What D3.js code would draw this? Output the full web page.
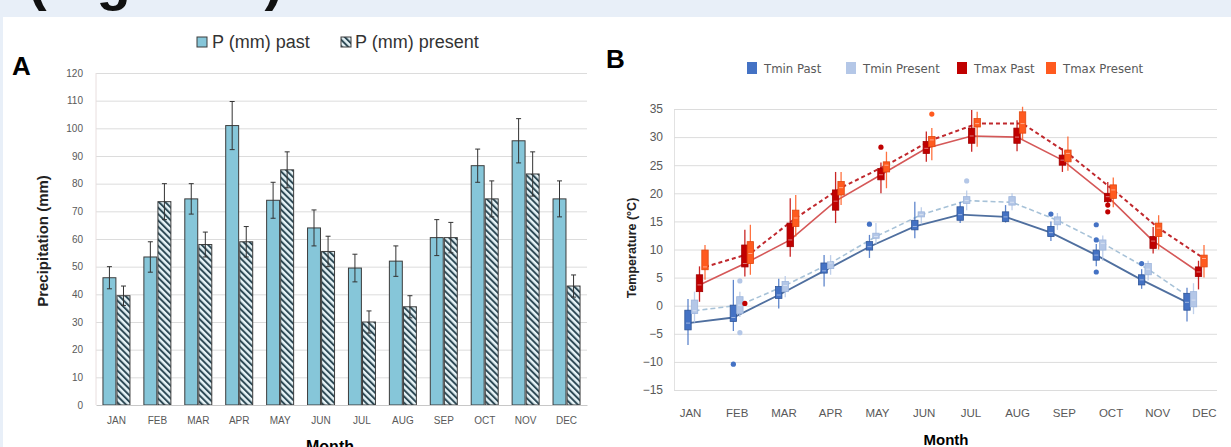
<!DOCTYPE html>
<html>
<head>
<meta charset="utf-8">
<script src="https://cdn.jsdelivr.net/npm/d3@7"></script>
<style>
    body { margin: 0; background: #fff; }
    svg { display: block; }
</style>
</head>
<body>
<div id="chart"></div>
<script>
const months = ["JAN", "FEB", "MAR", "APR", "MAY", "JUN", "JUL", "AUG", "SEP", "OCT", "NOV", "DEC"];

// panel A - precipitation (mm)
const precipPast = [46, 53.5, 74.5, 101, 74, 64, 49.5, 52, 60.5, 86.5, 95.5, 74.5];
const precipPastErr = [4, 5.5, 5.5, 8.7, 6.5, 6.5, 5, 5.5, 6.5, 6, 8, 6.5];
const precipPresent = [39.5, 73.5, 58, 59, 85, 55.5, 30, 35.5, 60.5, 74.5, 83.5, 43];
const precipPresentErr = [3.5, 6.5, 4.5, 5.5, 6.5, 5.5, 4, 4, 5.5, 6.5, 8, 4];
const precipTicks = [0, 10, 20, 30, 40, 50, 60, 70, 80, 90, 100, 110, 120];

// panel B - temperature (°C), box = [whisker low, q1, q3, whisker high]
const tempTicks = [-15, -10, -5, 0, 5, 10, 15, 20, 25, 30, 35];

const tminPastMean = [-3.1, -2.1, 1.9, 6.2, 10.5, 14.1, 16.2, 15.8, 13.0, 9.0, 4.6, 0.6];
const tminPastBox = [[-7, -4.3, -0.8, 1.2], [-4.5, -2.8, 0.1, 4.6], [-0.5, 1.3, 3.4, 4.8], [3.4, 5.8, 7.6, 9],
    [8.5, 9.9, 11.4, 12.6], [12, 13.5, 15.2, 18.5], [14.7, 15.2, 17.6, 18.5], [14.8, 15, 16.7, 17.9],
    [11.5, 12.3, 14.1, 15], [7, 8.1, 9.9, 11], [3, 3.7, 5.5, 6.5], [-2.8, -0.8, 2.2, 3.2]];
const tminPastOut = [[1, -10.4], [4, 14.5], [8, 16.3], [9, 14.4], [9, 11.7], [9, 6.0], [10, 7.5]];

const tminPresentMean = [-0.9, 0.1, 3.6, 7.6, 12.3, 16.2, 18.7, 18.4, 15.2, 11.1, 6.5, 1.0];
const tminPresentBox = [[-3, -1.4, 1, 2.5], [-2, -1.4, 1.6, 2.5], [1.5, 2.5, 4.3, 5.3], [5.5, 6.6, 7.8, 9],
    [11, 12, 12.9, 14.7], [14.5, 15.8, 16.7, 17.5], [17, 18.2, 19.4, 20.5], [17, 17.9, 19.4, 20],
    [13.5, 14.4, 15.8, 16.5], [8, 9.9, 11.7, 12.5], [4.5, 5.5, 7.5, 8], [-1.5, -0.2, 2.5, 4]];
const tminPresentOut = [[1, 4.4], [1, -4.8], [6, 22.2]];

const tmaxPastMean = [3.7, 7.5, 11.7, 18.6, 23.3, 28.0, 30.2, 30.0, 25.9, 19.4, 11.5, 6.0];
const tmaxPastBox = [[0.7, 2.5, 5.5, 7], [5.2, 6.9, 10.8, 13.5], [8.7, 10.5, 14.7, 19.1], [14.7, 17, 20.6, 23.8],
    [20, 22.4, 24.4, 25.5], [25.6, 27.1, 29.2, 31], [27.4, 28.9, 31.6, 34.8], [27.5, 28.9, 31.6, 33],
    [23.8, 25, 26.8, 28], [18, 18.5, 20, 22], [9.3, 10.2, 12.3, 14], [2.9, 5.2, 6.9, 8]];
const tmaxPastOut = [[1, 0.4], [4, 28.2], [9, 17.9], [9, 16.7]];

const tmaxPresentMean = [6.9, 9.3, 15.6, 21.0, 25.0, 29.5, 32.4, 32.4, 27.1, 20.6, 13.8, 8.4];
const tmaxPresentBox = [[4.6, 6.4, 9.9, 10.8], [5.5, 7.5, 11.4, 14.4], [12.3, 14.1, 17, 19.7], [17.9, 19.7, 22.1, 23.8],
    [20.9, 23.8, 25.6, 27.4], [25.9, 28.3, 30.1, 31.6], [28.3, 31.8, 33.3, 34.5], [29.5, 30.7, 34.5, 35.4],
    [24, 25.6, 27.7, 30.1], [17.5, 19.1, 21.5, 22.8], [10, 12.3, 14.7, 16.1], [5, 6.9, 9, 10.8]];
const tmaxPresentOut = [[5, 34.1]];

const tempNames = ["Tmin Past", "Tmin Present", "Tmax Past", "Tmax Present"];

const W = 1231, H = 447;
const svg = d3.select("#chart").append("svg")
    .attr("width", W)
    .attr("height", H)
    .style("font-family", "'Liberation Sans', Arial, sans-serif");

// page background + heading (only its lower edge is in view)
svg.append("rect").attr("width", W).attr("height", H).attr("fill", "#e8eff8");
svg.append("text")
    .attr("x", 28).attr("y", -1)
    .style("font-size", "56px").style("font-weight", "bold").attr("fill", "#111")
    .text("(Figure 3)");
svg.append("rect").attr("x", 3).attr("y", 17).attr("width", W - 3).attr("height", H - 17).attr("fill", "#fff");

const defs = svg.append("defs");
const hatch = defs.append("pattern")
    .attr("id", "hatch")
    .attr("patternUnits", "userSpaceOnUse")
    .attr("width", 4.5).attr("height", 4.5)
    .attr("patternTransform", "rotate(-45)");
hatch.append("rect").attr("width", 4.5).attr("height", 4.5).attr("fill", "#e6f3f7");
hatch.append("line").attr("x1", 1).attr("x2", 1).attr("y1", 0).attr("y2", 4.5)
    .attr("stroke", "#2e4a56").attr("stroke-width", 2);

const tickColor = "#595959";
const gridColor = "#dcdcdc";

// ================= panel A =================
const aLeft = 96, aRight = 587, aTop = 73, aBottom = 405;

const xA = d3.scaleBand().domain(months).range([aLeft, aRight]).padding(0);
const xSub = d3.scaleBand().domain(["past", "present"]).range([0, 27]).paddingInner(0.08);
const yA = d3.scaleLinear().domain([0, 120]).range([aBottom, aTop]);
const groupX = m => xA(m) + (xA.bandwidth() - 27) / 2;

// grid
svg.append("g")
    .attr("transform", `translate(${aLeft},0)`)
    .call(d3.axisLeft(yA).tickValues(precipTicks.slice(1)).tickSize(-(aRight - aLeft)).tickFormat(""))
    .call(g => g.select(".domain").remove())
    .call(g => g.selectAll("line").attr("stroke", gridColor));

svg.append("line")
    .attr("x1", aLeft).attr("x2", aLeft).attr("y1", aTop).attr("y2", aBottom)
    .attr("stroke", "#e8dede");

// y axis labels
svg.append("g")
    .attr("transform", `translate(${aLeft - 10},0)`)
    .call(d3.axisLeft(yA).tickValues(precipTicks).tickSize(0))
    .call(g => g.select(".domain").remove())
    .call(g => g.selectAll("text").attr("fill", tickColor).style("font-size", "10px")
        .style("font-family", "'Liberation Sans', Arial, sans-serif"));

// bars past
svg.append("g").selectAll("rect")
    .data(months)
    .enter().append("rect")
    .attr("x", m => groupX(m) + xSub("past"))
    .attr("width", xSub.bandwidth())
    .attr("y", (m, i) => yA(precipPast[i]))
    .attr("height", (m, i) => yA(0) - yA(precipPast[i]))
    .attr("fill", "#86c6d9")
    .attr("stroke", "#3d3d3d")
    .attr("stroke-width", 1);

// bars present (hatched)
svg.append("g").selectAll("rect")
    .data(months)
    .enter().append("rect")
    .attr("x", m => groupX(m) + xSub("present"))
    .attr("width", xSub.bandwidth())
    .attr("y", (m, i) => yA(precipPresent[i]))
    .attr("height", (m, i) => yA(0) - yA(precipPresent[i]))
    .attr("fill", "url(#hatch)")
    .attr("stroke", "#3d3d3d")
    .attr("stroke-width", 1);

// error bars
const errData = [];
months.forEach((m, i) => {
    errData.push({cx: groupX(m) + xSub("past") + xSub.bandwidth() / 2, v: precipPast[i], e: precipPastErr[i]});
    errData.push({cx: groupX(m) + xSub("present") + xSub.bandwidth() / 2, v: precipPresent[i], e: precipPresentErr[i]});
});
const eb = svg.append("g").attr("stroke", "#333").attr("stroke-width", 1).selectAll("g")
    .data(errData).enter().append("g");
eb.append("line")
    .attr("x1", d => d.cx).attr("x2", d => d.cx)
    .attr("y1", d => yA(d.v - d.e)).attr("y2", d => yA(d.v + d.e));
eb.append("line")
    .attr("x1", d => d.cx - 2.5).attr("x2", d => d.cx + 2.5)
    .attr("y1", d => yA(d.v + d.e)).attr("y2", d => yA(d.v + d.e));
eb.append("line")
    .attr("x1", d => d.cx - 2.5).attr("x2", d => d.cx + 2.5)
    .attr("y1", d => yA(d.v - d.e)).attr("y2", d => yA(d.v - d.e));

// x axis
svg.append("g")
    .attr("transform", `translate(0,${aBottom})`)
    .call(d3.axisBottom(xA).tickSize(0).tickPadding(12))
    .call(g => g.select(".domain").attr("stroke", "#c8c8c8"))
    .call(g => g.selectAll("text").attr("fill", tickColor).style("font-size", "10px")
        .style("font-family", "'Liberation Sans', Arial, sans-serif"));

svg.append("text")
    .attr("x", 330).attr("y", 452)
    .attr("text-anchor", "middle")
    .style("font-size", "16px").style("font-weight", "bold")
    .text("Month");

svg.append("text")
    .attr("transform", "translate(48,241) rotate(-90)")
    .attr("text-anchor", "middle")
    .style("font-size", "15px").style("font-weight", "bold").attr("fill", "#222")
    .text("Precipitation (mm)");

svg.append("text")
    .attr("x", 12).attr("y", 75)
    .style("font-size", "26px").style("font-weight", "bold")
    .text("A");

// legend A
const legA = svg.append("g").attr("transform", "translate(197,37)");
legA.append("rect").attr("width", 10).attr("height", 10).attr("fill", "#86c6d9").attr("stroke", "#3d3d3d");
legA.append("text").attr("x", 15).attr("y", 11).style("font-size", "18px").attr("fill", "#333").text("P (mm) past");
legA.append("rect").attr("x", 144).attr("width", 10).attr("height", 10).attr("fill", "url(#hatch)").attr("stroke", "#3d3d3d");
legA.append("text").attr("x", 158).attr("y", 11).style("font-size", "18px").attr("fill", "#333").text("P (mm) present");

// ================= panel B =================
const bLeft = 674, bRight = 1217;
const yB = d3.scaleLinear().domain([-15, 35]).range([390, 109]);
const xBLabel = d3.scalePoint().domain(months).range([690, 1204]);
const xB = d3.scalePoint().domain(months).range([696, 1195]);

svg.append("g")
    .attr("transform", `translate(${bLeft},0)`)
    .call(d3.axisLeft(yB).tickValues(tempTicks).tickSize(-(bRight - bLeft)).tickFormat(""))
    .call(g => g.select(".domain").attr("stroke", "#e2e2e2"))
    .call(g => g.selectAll("line").attr("stroke", gridColor));

svg.append("g")
    .attr("transform", `translate(${bLeft - 8},0)`)
    .call(d3.axisLeft(yB).tickValues(tempTicks).tickSize(0))
    .call(g => g.select(".domain").remove())
    .call(g => g.selectAll("text").attr("fill", tickColor).style("font-size", "12px")
        .style("font-family", "'Liberation Sans', Arial, sans-serif"));

svg.append("g")
    .attr("transform", "translate(0,406)")
    .call(d3.axisBottom(xBLabel).tickSize(0))
    .call(g => g.select(".domain").remove())
    .call(g => g.selectAll("text").attr("fill", tickColor).style("font-size", "11.5px")
        .style("font-family", "'Liberation Sans', Arial, sans-serif"));

const tempSeries = [
    {name: tempNames[0], mean: tminPastMean, box: tminPastBox, out: tminPastOut},
    {name: tempNames[1], mean: tminPresentMean, box: tminPresentBox, out: tminPresentOut},
    {name: tempNames[2], mean: tmaxPastMean, box: tmaxPastBox, out: tmaxPastOut},
    {name: tempNames[3], mean: tmaxPresentMean, box: tmaxPresentBox, out: tmaxPresentOut}
];
const seriesStyle = {
    "Tmin Past": {offset: -8, box: "#4472c4", boxStroke: "#2f5597", line: "#4f6f9f", dash: null, lw: 1.8},
    "Tmin Present": {offset: -1.5, box: "#b4c7e7", boxStroke: "#9db5dc", line: "#a7c2d8", dash: "5,3", lw: 1.6},
    "Tmax Past": {offset: 3.5, box: "#c00000", boxStroke: "#a00000", line: "#d55858", dash: null, lw: 1.6},
    "Tmax Present": {offset: 9, box: "#ff5a1f", boxStroke: "#e04810", line: "#c0282d", dash: "4,3", lw: 2}
};

const line = off => d3.line()
    .x((d, i) => xB(months[i]) + off)
    .y(d => yB(d));

// lines first, boxes on top
tempSeries.forEach(s => {
    const st = seriesStyle[s.name];
    svg.append("path")
        .datum(s.mean)
        .attr("d", line(st.offset))
        .attr("fill", "none")
        .attr("stroke", st.line)
        .attr("stroke-width", st.lw)
        .attr("stroke-dasharray", st.dash);
});

tempSeries.forEach(s => {
    const st = seriesStyle[s.name];
    const g = svg.append("g");
    const bx = g.selectAll("g").data(s.box).enter().append("g")
        .attr("transform", (d, i) => `translate(${xB(months[i]) + st.offset},0)`);
    bx.append("line")
        .attr("y1", d => yB(d[0])).attr("y2", d => yB(d[3]))
        .attr("stroke", st.box).attr("stroke-width", 1.3).attr("opacity", 0.85);
    bx.append("rect")
        .attr("x", -3.2).attr("width", 6.4)
        .attr("y", d => yB(d[2]))
        .attr("height", d => yB(d[1]) - yB(d[2]))
        .attr("fill", st.box)
        .attr("stroke", st.boxStroke).attr("stroke-width", 0.8);
    bx.append("line")
        .attr("x1", -2).attr("x2", 2)
        .attr("y1", (d, i) => yB(s.mean[i])).attr("y2", (d, i) => yB(s.mean[i]))
        .attr("stroke", "#fff").attr("stroke-width", 0.8).attr("opacity", 0.6);
    g.selectAll("circle").data(s.out).enter().append("circle")
        .attr("cx", d => xB(months[d[0]]) + st.offset)
        .attr("cy", d => yB(d[1]))
        .attr("r", 2.6)
        .attr("fill", st.box);
});

svg.append("text")
    .attr("transform", "translate(636,248) rotate(-90)")
    .attr("text-anchor", "middle")
    .style("font-size", "12.5px").style("font-weight", "bold").attr("fill", "#222")
    .text("Temperature (°C)");

svg.append("text")
    .attr("x", 946).attr("y", 445)
    .attr("text-anchor", "middle")
    .style("font-size", "15px").style("font-weight", "bold")
    .text("Month");

svg.append("text")
    .attr("x", 606).attr("y", 68)
    .style("font-size", "26px").style("font-weight", "bold")
    .text("B");

// legend B
const legXs = [747, 846, 957, 1046];
const legB = svg.append("g").selectAll("g")
    .data(tempNames)
    .enter().append("g")
    .attr("transform", (d, i) => `translate(${legXs[i]},62)`);
legB.append("rect")
    .attr("width", 10).attr("height", 12)
    .attr("fill", d => seriesStyle[d].box);
legB.append("text")
    .attr("x", 17).attr("y", 11)
    .style("font-size", "13px")
    .style("font-family", "'Liberation Sans Narrow', 'DejaVu Sans Condensed', sans-serif")
    .attr("fill", tickColor)
    .text(d => d);
</script>
</body>
</html>
